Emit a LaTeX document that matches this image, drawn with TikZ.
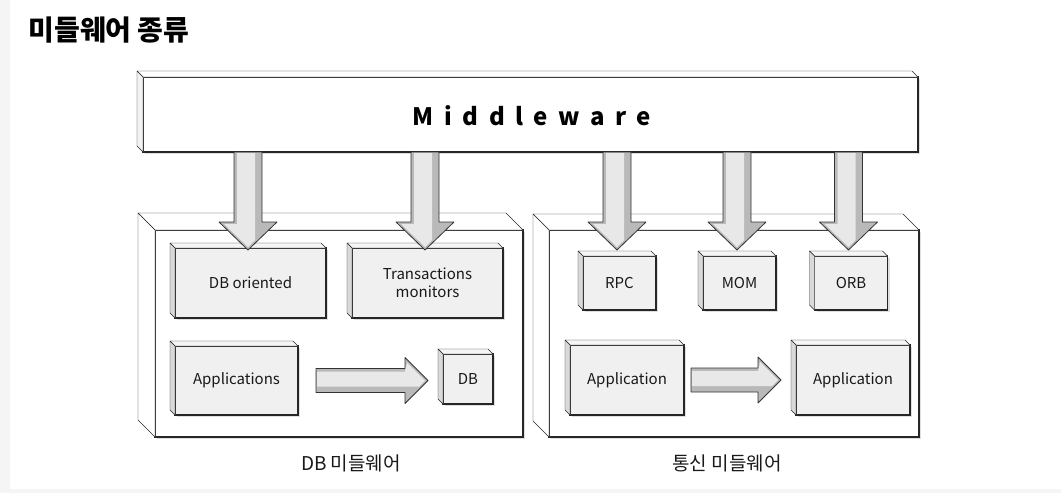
\documentclass[tikz,border=0pt]{standalone}
\usepackage{fontspec}
\setmainfont{Noto Sans CJK KR}
\usetikzlibrary{calc,shadows}
\newcommand{\cubeside}[4]{%
  \filldraw[fill=#3,draw=black!85,line join=round] (#1.north west) -- ++(-#2,-#2) -- ($(#1.north east)+(-#2,-#2)$) -- (#1.north east) -- cycle;
  \filldraw[fill=#4,draw=black!85,line join=round] (#1.north west) -- ++(-#2,-#2) -- ($(#1.south west)+(-#2,-#2)$) -- (#1.south west) -- cycle;}
\newcommand{\blockdown}[3]{%
  \coordinate (tx) at ($(#2.north)+(-#3/2,0)$);
  \coordinate (tip) at (tx |- tipline);
  \coordinate (top) at (#1.south -| tip);
  \filldraw[barrow] ($(top)+(-14,0)$) -- ($(tip)+(-14,-28)$) -- ($(tip)+(-29,-28)$) -- (tip) -- ($(tip)+(29,-28)$) -- ($(tip)+(14,-28)$) -- ($(top)+(14,0)$) -- cycle;
  \fill[gray!18] ($(top)+(-11,1)$) -- ($(tip)+(-11,-26)$) -- ($(tip)+(-24,-26)$) -- ($(tip)+(0,-3)$) -- ($(tip)+(7,-10)$) -- ($(tip)+(7,-28)$) -- ($(top)+(7,1)$) -- cycle;}
\newcommand{\blockright}[4]{%
  \coordinate (s) at ($(#1.east)+(#3,0)$);
  \coordinate (tx) at ($(#2.west)+(-#4,0)$);
  \coordinate (tip) at (tx |- s);
  \filldraw[barrow] ($(s)+(0,-12)$) -- ($(tip)+(-23,-12)$) -- ($(tip)+(-23,-23)$) -- (tip) -- ($(tip)+(-23,23)$) -- ($(tip)+(-23,12)$) -- ($(s)+(0,12)$) -- cycle;
  \fill[gray!18] ($(s)+(1,-9)$) -- ($(tip)+(-23,-9)$) -- ($(tip)+(-21,-18)$) -- ($(tip)+(-3,0)$) -- ($(tip)+(-9,6)$) -- ($(tip)+(-23,6)$) -- ($(s)+(1,6)$) -- cycle;}

\begin{document}
\begin{tikzpicture}[x=1pt,y=-1pt,
    face/.style={draw=black!85,fill=gray!12,line width=1.2pt,outer sep=0pt,inner sep=0pt,align=center,text=black!90,font=\fontsize{15}{18}\selectfont,drop shadow={shadow xshift=2pt,shadow yshift=-2pt,opacity=0.25}},
    wall/.style={draw=black!85,fill=white,line width=1.3pt,outer sep=0pt,inner sep=0pt,drop shadow={shadow xshift=2pt,shadow yshift=-2pt,opacity=0.25}},
    barrow/.style={draw=black!80,fill=gray!55,line width=0.8pt,line join=round},
    caption/.style={text=black!90,font=\fontsize{19}{22}\selectfont}]
  \useasboundingbox (0,0) rectangle (1061,493);
  \fill[gray!8] (0,0) rectangle (1061,493);
  \fill[white] (10,0) rectangle (1061,489);
  \node[anchor=west,font=\fontsize{28}{32}\selectfont\bfseries] at (25,30) (title) {미들웨어 종류};
  \node[wall,minimum width=775,minimum height=75] at (530.5,114.5) (mw) {};
  \cubeside{mw}{6}{white}{gray!10}
  \node[font=\fontsize{24}{28}\selectfont\bfseries\addfontfeatures{LetterSpace=44}] at (532,116) (mwtext) {Middleware};
  \node[wall,minimum width=368,minimum height=207] at (339,333.5) (dbmw) {};
  \cubeside{dbmw}{17}{white}{white}
  \node[wall,minimum width=370,minimum height=207] at (734,333.5) (commw) {};
  \cubeside{commw}{16}{white}{white}
  \node[face,minimum width=151,minimum height=70] at (250.5,283) (dbo) {DB oriented};
  \node[face,minimum width=151,minimum height=70] at (427.5,283) (tpm) {Transactions\\monitors};
  \node[face,minimum width=123,minimum height=69] at (236.5,380.5) (apps) {Applications};
  \node[face,minimum width=50,minimum height=50] at (468,379) (db) {DB};
  \node[face,minimum width=73,minimum height=54] at (619.5,283) (rpc) {RPC};
  \node[face,minimum width=73,minimum height=54] at (739.5,283) (mom) {MOM};
  \node[face,minimum width=73,minimum height=54] at (851,283) (orb) {ORB};
  \node[face,minimum width=114,minimum height=70] at (627,380) (app1) {Application};
  \node[face,minimum width=114,minimum height=70] at (853,380) (app2) {Application};
  \foreach \n in {dbo,tpm,apps,db,rpc,mom,orb,app1,app2}
    \cubeside{\n}{5}{gray!8}{gray!30};
  \node[caption] at (351,463) (dbcap) {DB 미들웨어};
  \node[caption] at (727,463) (comcap) {통신 미들웨어};
  \coordinate (tipline) at (0,250);
  \blockright{apps}{db}{18}{15}
  \blockright{app1}{app2}{7}{15}
  \blockdown{mw}{dbo}{5}
  \blockdown{mw}{tpm}{5}
  \blockdown{mw}{rpc}{5}
  \blockdown{mw}{mom}{5}
  \blockdown{mw}{orb}{5}
\end{tikzpicture}
\end{document}
